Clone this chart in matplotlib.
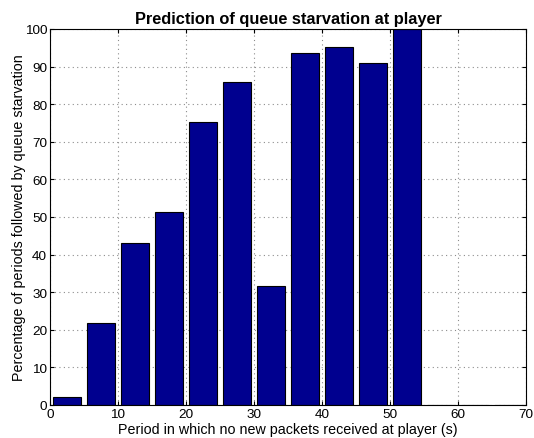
import matplotlib
matplotlib.use("Agg")
import matplotlib.pyplot as plt

plt.rcParams['font.family'] = ['Liberation Sans', 'DejaVu Sans']

# bin centres (s) and percentage of periods followed by starvation
periods = [2.5, 7.5, 12.5, 17.5, 22.5, 27.5, 32.5, 37.5, 42.5, 47.5, 52.5, 57.5, 62.5, 67.5]
percent = [2.2, 21.7, 43.0, 51.2, 75.3, 86.0, 31.6, 93.6, 95.2, 90.9, 100.0, 0.0, 0.0, 0.0]

fig = plt.figure(figsize=(5.34, 4.39), dpi=100)
ax = fig.add_axes([50 / 534, 33 / 439, 476 / 534, 376 / 439])

ax.bar(periods, percent, width=4, color='#00008F', edgecolor='black', linewidth=0.8, zorder=3)

ax.set_xlim(0, 70)
ax.set_ylim(0, 100)
ax.set_xticks(range(0, 71, 10))
ax.set_yticks(range(0, 101, 10))
ax.grid(True, linestyle=(0, (1, 3)), color='#8c8c8c', linewidth=0.8, zorder=0)
ax.set_axisbelow(True)
ax.tick_params(direction='in', top=True, right=True, labelsize=9.7, length=3, pad=2)
for s in ax.spines.values():
    s.set_linewidth(0.8)
    s.set_zorder(4)

ax.set_title('Prediction of queue starvation at player', fontsize=11.8, fontweight='bold', pad=4)
ax.set_xlabel('Period in which no new packets received at player (s)', fontsize=10.3, labelpad=1.5)
ax.set_ylabel('Percentage of periods followed by queue starvation', fontsize=10.3, labelpad=-1)

fig.savefig('out.png', dpi=100)
